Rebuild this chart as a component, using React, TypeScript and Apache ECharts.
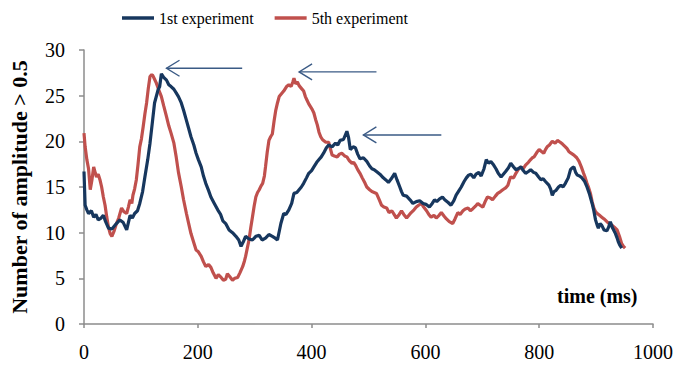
import React, { useEffect, useRef } from "react";
import * as echarts from "echarts";

// Sample times (ms) and counts for the 1st experiment
const firstTimes = [
  0, 2, 5, 8, 13, 17, 21, 25, 30, 34, 38, 43, 49, 53, 57, 63, 69, 75, 81, 85, 89, 94, 98, 103, 107, 112, 116, 120, 124,
  130, 133, 136, 140, 145, 149, 153, 158, 162, 166, 171, 175, 180, 184, 188, 193, 197, 201, 206, 210, 214, 219, 223,
  229, 235, 240, 244, 249, 255, 261, 267, 272, 276, 280, 284, 290, 296, 302, 308, 313, 319, 325, 331, 336, 340, 346,
  351, 355, 360, 365, 369, 374, 378, 382, 386, 391, 395, 400, 404, 409, 413, 417, 421, 426, 430, 436, 442, 446, 450,
  456, 462, 465, 468, 473, 477, 481, 485, 491, 497, 502, 506, 510, 514, 520, 526, 530, 535, 540, 546, 550, 555, 558,
  561, 567, 573, 578, 584, 590, 596, 601, 607, 612, 616, 620, 625, 630, 634, 640, 645, 650, 654, 659, 663, 668, 672,
  676, 680, 685, 689, 694, 698, 703, 707, 711, 715, 720, 724, 728, 733, 737, 741, 746, 750, 755, 759, 763, 768, 772,
  776, 781, 785, 790, 794, 799, 803, 807, 811, 817, 820, 823, 826, 829, 834, 838, 842, 846, 851, 855, 858, 861, 864,
  867, 871, 875, 880, 884, 888, 893, 896, 899, 902, 904, 907, 910, 914, 919, 922, 925, 929, 934, 937, 939, 942, 945,
];
const firstCounts = [
  16.7, 13.0, 12.5, 12.1, 12.4, 11.7, 12.0, 11.4, 11.6, 11.9, 11.2, 10.5, 10.4, 10.7, 11.0, 11.4, 11.1, 10.3, 11.9,
  11.6, 12.1, 12.4, 13.2, 14.5, 16.1, 18.0, 19.8, 22.0, 24.2, 25.6, 26.0, 27.4, 27.0, 26.7, 26.2, 26.0, 25.7, 25.3,
  24.9, 24.2, 23.4, 22.3, 21.4, 20.5, 19.6, 18.7, 18.0, 17.2, 16.2, 15.4, 14.6, 13.9, 13.2, 12.5, 12.0, 11.3, 11.0,
  10.3, 10.0, 9.6, 9.2, 8.5, 9.0, 9.6, 9.3, 9.2, 9.6, 9.7, 9.2, 9.4, 9.8, 9.6, 9.4, 9.2, 11.0, 12.1, 12.0, 12.5,
  13.2, 14.3, 14.4, 14.7, 15.0, 15.4, 16.0, 16.5, 16.8, 17.2, 17.7, 18.0, 18.3, 18.7, 19.3, 19.6, 19.4, 19.8, 19.6,
  20.1, 20.2, 21.1, 20.4, 19.1, 19.4, 19.3, 18.6, 18.1, 18.2, 17.8, 17.3, 17.0, 16.9, 16.7, 16.4, 16.0, 15.8, 15.5,
  15.9, 16.5, 15.8, 15.0, 14.5, 14.1, 14.0, 13.6, 13.2, 13.4, 13.5, 13.2, 13.1, 12.8, 13.2, 13.6, 13.4, 13.7, 13.9,
  13.6, 13.3, 13.0, 13.5, 14.1, 14.6, 15.0, 15.6, 16.0, 16.3, 16.4, 16.0, 16.4, 16.6, 16.2, 17.0, 18.0, 17.6, 17.8,
  17.4, 17.0, 16.5, 16.1, 16.4, 16.7, 17.1, 17.6, 17.2, 16.9, 17.0, 17.2, 16.8, 16.5, 16.7, 16.9, 16.6, 16.5, 16.1,
  15.8, 15.9, 15.6, 15.2, 14.8, 14.1, 14.5, 14.6, 15.0, 15.2, 15.0, 15.4, 16.0, 16.9, 17.1, 17.2, 16.6, 16.3, 16.2,
  16.0, 15.6, 15.0, 14.3, 13.2, 12.4, 11.4, 10.8, 10.5, 11.0, 10.8, 10.3, 10.2, 10.6, 11.2, 10.5, 9.9, 9.4, 9.0, 8.6,
  8.3,
];

// Sample times (ms) and counts for the 5th experiment
const fifthTimes = [
  0, 2, 5, 8, 11, 14, 17, 20, 22, 25, 28, 31, 34, 37, 40, 43, 46, 49, 53, 57, 61, 66, 70, 75, 78, 81, 84, 86, 89, 92,
  95, 98, 101, 104, 107, 110, 113, 116, 119, 121, 124, 127, 131, 136, 140, 145, 149, 153, 158, 162, 166, 171, 175,
  180, 184, 188, 193, 197, 201, 206, 210, 214, 219, 223, 227, 232, 236, 241, 245, 249, 252, 256, 261, 265, 270, 274,
  279, 282, 284, 287, 290, 293, 296, 299, 302, 305, 308, 311, 314, 317, 319, 322, 325, 328, 331, 334, 337, 340, 343,
  347, 351, 356, 360, 364, 367, 369, 372, 375, 378, 382, 386, 389, 392, 395, 398, 401, 404, 407, 410, 413, 416, 419,
  421, 425, 430, 433, 436, 440, 445, 449, 453, 458, 462, 466, 471, 474, 477, 481, 485, 489, 494, 497, 502, 506, 510,
  514, 519, 523, 527, 532, 536, 541, 545, 549, 554, 558, 562, 567, 571, 575, 580, 584, 588, 593, 597, 602, 606, 610,
  615, 619, 624, 628, 633, 637, 642, 648, 652, 657, 661, 666, 670, 675, 679, 683, 688, 692, 696, 701, 705, 709, 714,
  718, 723, 727, 732, 736, 741, 745, 748, 750, 755, 759, 763, 768, 772, 776, 781, 785, 788, 791, 796, 800, 804, 808,
  811, 814, 818, 823, 828, 832, 837, 841, 846, 849, 852, 856, 861, 866, 870, 874, 878, 881, 884, 887, 890, 893, 896,
  899, 902, 906, 910, 914, 919, 923, 928, 932, 937, 941, 945, 948, 951,
];
const fifthCounts = [
  20.9, 19.4, 18.0, 17.0, 14.7, 15.8, 17.2, 16.5, 16.1, 16.4, 15.8, 15.0, 13.9, 13.0, 11.7, 10.6, 9.9, 9.6, 10.2,
  11.0, 11.6, 12.7, 12.3, 12.1, 12.8, 13.6, 13.2, 14.1, 14.8, 15.8, 17.5, 19.4, 20.3, 21.6, 23.0, 24.2, 25.8, 27.1,
  27.3, 27.2, 26.8, 26.4, 25.7, 24.9, 23.9, 22.7, 21.7, 20.9, 19.8, 18.3, 16.6, 15.0, 13.6, 12.1, 11.0, 9.9, 8.9, 8.1,
  7.9, 7.4, 6.8, 6.3, 6.5, 6.2, 5.6, 5.0, 5.4, 5.1, 4.8, 4.9, 5.5, 5.2, 4.8, 5.0, 5.1, 5.6, 6.3, 6.9, 7.4, 8.3, 9.2,
  10.5, 11.7, 12.9, 13.9, 14.4, 14.7, 15.1, 15.4, 16.2, 17.2, 18.8, 20.1, 20.5, 20.8, 22.2, 23.4, 24.2, 24.9, 25.2,
  25.5, 26.0, 26.2, 26.0, 26.5, 26.9, 26.3, 26.5, 26.1, 25.8, 25.5, 24.9, 24.5, 24.1, 23.8, 23.5, 23.1, 22.4, 21.8,
  21.0, 20.5, 20.2, 20.1, 19.9, 19.9, 19.2, 18.5, 18.4, 18.3, 18.6, 18.7, 18.4, 18.3, 17.9, 17.6, 17.7, 17.4, 16.9,
  16.5, 16.0, 15.4, 15.0, 14.7, 14.5, 14.4, 14.3, 13.6, 13.0, 12.8, 12.7, 12.2, 12.4, 12.0, 11.6, 12.0, 12.4, 12.0,
  11.6, 11.9, 12.2, 12.5, 12.8, 13.0, 13.2, 12.8, 12.4, 12.0, 11.7, 11.9, 11.6, 11.9, 12.2, 11.8, 11.5, 11.2, 11.0,
  11.5, 12.2, 12.0, 12.4, 12.6, 12.7, 12.4, 12.6, 12.9, 13.2, 13.0, 12.8, 13.4, 13.9, 13.8, 13.6, 14.0, 14.3, 14.5,
  14.7, 14.9, 15.2, 15.8, 16.1, 16.0, 16.5, 16.9, 17.2, 17.0, 17.4, 17.7, 18.0, 18.2, 18.3, 18.8, 19.1, 18.9, 18.7,
  19.1, 19.4, 19.6, 20.0, 19.8, 20.1, 19.9, 19.7, 19.4, 19.2, 18.9, 18.7, 18.5, 18.2, 17.8, 17.2, 16.5, 16.0, 15.4,
  14.9, 14.3, 13.4, 12.7, 12.3, 12.1, 11.9, 11.7, 11.5, 11.2, 11.0, 10.8, 10.6, 10.3, 9.6, 8.8, 8.5, 8.3,
];

// Peak markers: arrow tail time, arrow head time, level
const arrowTails = [278, 514, 628];
const arrowHeads = [145, 378, 491];
const arrowLevels = [28.0, 27.6, 20.7];

const xTicks = [0, 200, 400, 600, 800, 1000];
const yTicks = [0, 5, 10, 15, 20, 25, 30];

const SERIF = "Times New Roman, Liberation Serif, serif";
const NAVY = "#17375E";
const RED = "#C0504D";
const ARROW = "#3A5A85";
const AXIS = "#8c8c8c";

const zip = (xs: number[], ys: number[]) => xs.map((x, i) => [x, ys[i]]);

export default function App() {
  const ref = useRef<HTMLDivElement>(null);

  useEffect(() => {
    if (!ref.current) return;
    const chart = echarts.init(ref.current, null, { renderer: "svg" });

    const arrowData = arrowTails.map((t, i) => [t, arrowHeads[i], arrowLevels[i]]);
    const legendIcon = "path://M0,0 H32 V3.5 H0 Z";

    chart.setOption({
      animation: false,
      backgroundColor: "#ffffff",
      textStyle: { fontFamily: SERIF },
      grid: { left: 80, right: 23, top: 50, bottom: 43, containLabel: false },
      legend: {
        data: [
          { name: "1st experiment", icon: legendIcon },
          { name: "5th experiment", icon: legendIcon },
        ],
        left: 117,
        top: 5,
        itemWidth: 32,
        itemHeight: 4,
        itemGap: 21,
        textStyle: { fontFamily: SERIF, fontSize: 16, color: "#000" },
      },
      xAxis: {
        type: "value",
        min: xTicks[0],
        max: xTicks[xTicks.length - 1],
        interval: 200,
        splitLine: { show: false },
        axisLine: { lineStyle: { color: AXIS, width: 1.5 } },
        axisTick: { show: true, length: 4, lineStyle: { color: AXIS, width: 1.5 } },
        axisLabel: {
          fontFamily: SERIF,
          fontSize: 20,
          color: "#000",
          margin: 18,
          formatter: (v: number) => String(v),
        },
      },
      yAxis: {
        type: "value",
        min: yTicks[0],
        max: yTicks[yTicks.length - 1],
        interval: 5,
        splitLine: { show: false },
        axisLine: { show: true, lineStyle: { color: AXIS, width: 1.5 } },
        axisTick: { show: true, length: 5, lineStyle: { color: AXIS, width: 1.5 } },
        axisLabel: { fontFamily: SERIF, fontSize: 20, color: "#000", margin: 19 },
        name: "Number of amplitude > 0.5",
        nameLocation: "middle",
        nameGap: 54,
        nameTextStyle: { fontFamily: SERIF, fontSize: 22, fontWeight: "bold", color: "#000" },
      },
      graphic: [
        {
          type: "text",
          left: 557,
          top: 286,
          style: { text: "time (ms)", fontFamily: SERIF, fontSize: 20, fontWeight: "bold", fill: "#000" },
        },
      ],
      series: [
        {
          name: "1st experiment",
          type: "line",
          data: zip(firstTimes, firstCounts),
          symbol: "none",
          lineStyle: { color: NAVY, width: 3.2 },
          itemStyle: { color: NAVY },
          z: 3,
        },
        {
          name: "5th experiment",
          type: "line",
          data: zip(fifthTimes, fifthCounts),
          symbol: "none",
          lineStyle: { color: RED, width: 3.2 },
          itemStyle: { color: RED },
          z: 2,
        },
        {
          name: "arrows",
          type: "custom",
          data: arrowData,
          encode: { x: [0, 1], y: 2 },
          z: 4,
          renderItem: (_params: any, api: any) => {
            const tail = api.coord([api.value(0), api.value(2)]);
            const head = api.coord([api.value(1), api.value(2)]);
            const style = { stroke: ARROW, lineWidth: 1.4, fill: "none" };
            return {
              type: "group",
              children: [
                { type: "line", shape: { x1: tail[0], y1: tail[1], x2: head[0], y2: head[1] }, style },
                {
                  type: "polyline",
                  shape: {
                    points: [
                      [head[0] + 13, head[1] - 8],
                      [head[0], head[1]],
                      [head[0] + 13, head[1] + 8],
                    ],
                  },
                  style,
                },
              ],
            };
          },
        },
      ],
    });

    return () => chart.dispose();
  }, []);

  return (
    <div
      ref={ref}
      style={{ position: "fixed", left: 0, top: 0, width: 676, height: 367 }}
    />
  );
}
